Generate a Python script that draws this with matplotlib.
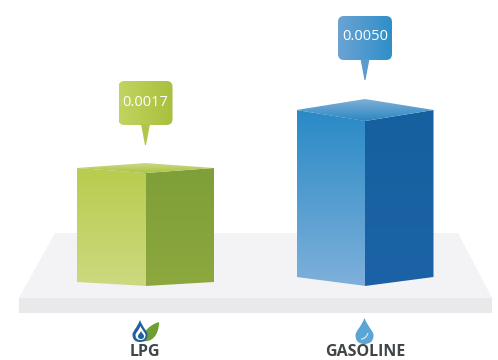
import numpy as np
from matplotlib import pyplot as plt
from matplotlib.patches import Polygon, PathPatch, FancyBboxPatch
from matplotlib.path import Path
from matplotlib.colors import LinearSegmentedColormap

# chart data
categories = ["LPG", "GASOLINE"]
values = ["0.0017", "0.0050"]
bar_heights = [114, 167]  # front edge height, px
top_depths = [5, 11]

# colours per bar: front top/bottom, side top/bottom, roof back/front, bubble light/dark
front_cols = [("#b9cc4f", "#cdd97f"), ("#2a8ac6", "#7db0da")]
side_cols = [("#7f9f38", "#8ca83e"), ("#17609f", "#1b63a6")]
roof_cols = [("#cdd88a", "#a9c440"), ("#7fb0d8", "#2b86c2")]
bubble_cols = [("#c3d35f", "#a8c03e"), ("#6ba3d3", "#2f8fc9")]
tail_cols = ["#b0c64a", "#5b9bd0"]

base_y = 282
centers = [145.5, 365]
half_w = [68.5, 68.5]
base_drop = [4, 9]


def gradient_fill(ax, patch, c0, c1, horizontal=False):
    ax.add_patch(patch)
    patch.set_edgecolor("none")
    patch.set_facecolor("none")
    if isinstance(patch, Polygon):
        pts = patch.get_xy()
    else:
        pts = patch.get_path().vertices
    x0, y0 = pts.min(axis=0)
    x1, y1 = pts.max(axis=0)
    cmap = LinearSegmentedColormap.from_list("g", [c0, c1])
    g = np.linspace(0, 1, 64)
    g = g.reshape(1, -1) if horizontal else g.reshape(-1, 1)
    im = ax.imshow(g, cmap=cmap, extent=(x0, x1, y1, y0), aspect="auto", zorder=patch.get_zorder())
    im.set_clip_path(patch)


fig = plt.figure(figsize=(4.98, 3.6), dpi=100)
ax = fig.add_axes([0, 0, 1, 1])
ax.set_xlim(0, 498)
ax.set_ylim(360, 0)
ax.axis("off")

# platform
ax.add_patch(Polygon([(55, 233), (458, 233), (492, 298), (19, 298)], fc="#f3f3f6", ec="none", zorder=1))
ax.add_patch(Polygon([(19, 298), (492, 298), (492, 313), (19, 313)], fc="#e9e9ec", ec="none", zorder=1))

for i in range(len(categories)):
    c = centers[i]
    w = half_w[i]
    h = bar_heights[i]
    d = top_depths[i]
    b = base_drop[i]
    yb = base_y - (b - 4)
    top_side = yb - h
    # front-left face, runs a little under the side face so no seam shows
    gradient_fill(ax, Polygon([(c - w, top_side), (c + 1, top_side + d), (c + 1, base_y + 4), (c - w, yb)], zorder=2),
                  front_cols[i][0], front_cols[i][1])
    # front-right face
    gradient_fill(ax, Polygon([(c, top_side + d), (c + w, top_side), (c + w, yb), (c, base_y + 4)], zorder=2.1),
                  side_cols[i][0], side_cols[i][1])
    # roof
    gradient_fill(ax, Polygon([(c - w, top_side), (c, top_side - d), (c + w, top_side), (c, top_side + d)], zorder=3),
                  roof_cols[i][0], roof_cols[i][1])

    # value bubble
    bx0, bx1 = c - 27, c + 27
    by1 = top_side - 43 if i == 0 else top_side - 50
    by0 = by1 - 44
    box = FancyBboxPatch((bx0 + 6, by0 + 6), bx1 - bx0 - 12, by1 - by0 - 12,
                         boxstyle="round,pad=6,rounding_size=6", zorder=4, mutation_aspect=1)
    gradient_fill(ax, box, bubble_cols[i][0], bubble_cols[i][1], horizontal=True)
    ax.add_patch(Polygon([(c - 4.5, by1 - 1), (c + 4.5, by1 - 1), (c + 0.5, by1 + 20), (c - 0.5, by1 + 20)],
                         fc=tail_cols[i], ec="none", zorder=4))
    ax.text(c, (by0 + by1) / 2 - 1, values[i], color="white", ha="center", va="center",
            fontsize=10.5, family="Open Sans", zorder=5)

    # category label
    ax.text(c - 1 if i == 0 else c + 0.5, 355.5, categories[i], color="#404548", ha="center", va="baseline",
            fontsize=11.5, fontweight="bold", family="Open Sans", zorder=5)


def drop(cx, ytop, ybot, hw):
    # simple teardrop
    ym = ybot - hw
    verts = [(cx, ytop), (cx + hw * 0.35, ytop + (ym - ytop) * 0.5), (cx + hw, ym - hw * 0.4), (cx + hw, ym),
             (cx + hw, ym + hw * 0.75), (cx + hw * 0.55, ybot), (cx, ybot),
             (cx - hw * 0.55, ybot), (cx - hw, ym + hw * 0.75), (cx - hw, ym),
             (cx - hw, ym - hw * 0.4), (cx - hw * 0.35, ytop + (ym - ytop) * 0.5), (cx, ytop)]
    codes = [Path.MOVETO] + [Path.CURVE4] * 12
    return Path(verts, codes)


# gasoline icon
ax.add_patch(PathPatch(drop(364.5, 318, 344, 9), fc="#5aa5d6", ec="none", zorder=5))
ax.add_patch(PathPatch(Path([(361, 339), (366, 339), (368, 333)], [Path.MOVETO, Path.CURVE3, Path.CURVE3]),
                       fc="none", ec="#cfe4f2", lw=1, zorder=6))

# lpg icon: leaf behind flame
ax.add_patch(PathPatch(Path([(142, 341), (143, 326), (159, 322), (159, 322), (159, 335), (152, 343), (142, 341)],
                            [Path.MOVETO] + [Path.CURVE4] * 6), fc="#6f9e35", ec="none", zorder=5))
ax.add_patch(PathPatch(drop(140, 320, 342, 7.5), fc="#1f5f9e", ec="none", zorder=6))
ax.add_patch(PathPatch(drop(140.5, 326, 340, 5), fc="white", ec="none", zorder=6))
ax.add_patch(PathPatch(drop(141, 331, 339, 3), fc="#1f5f9e", ec="none", zorder=7))

fig.savefig("out.png", dpi=100, facecolor="white")
